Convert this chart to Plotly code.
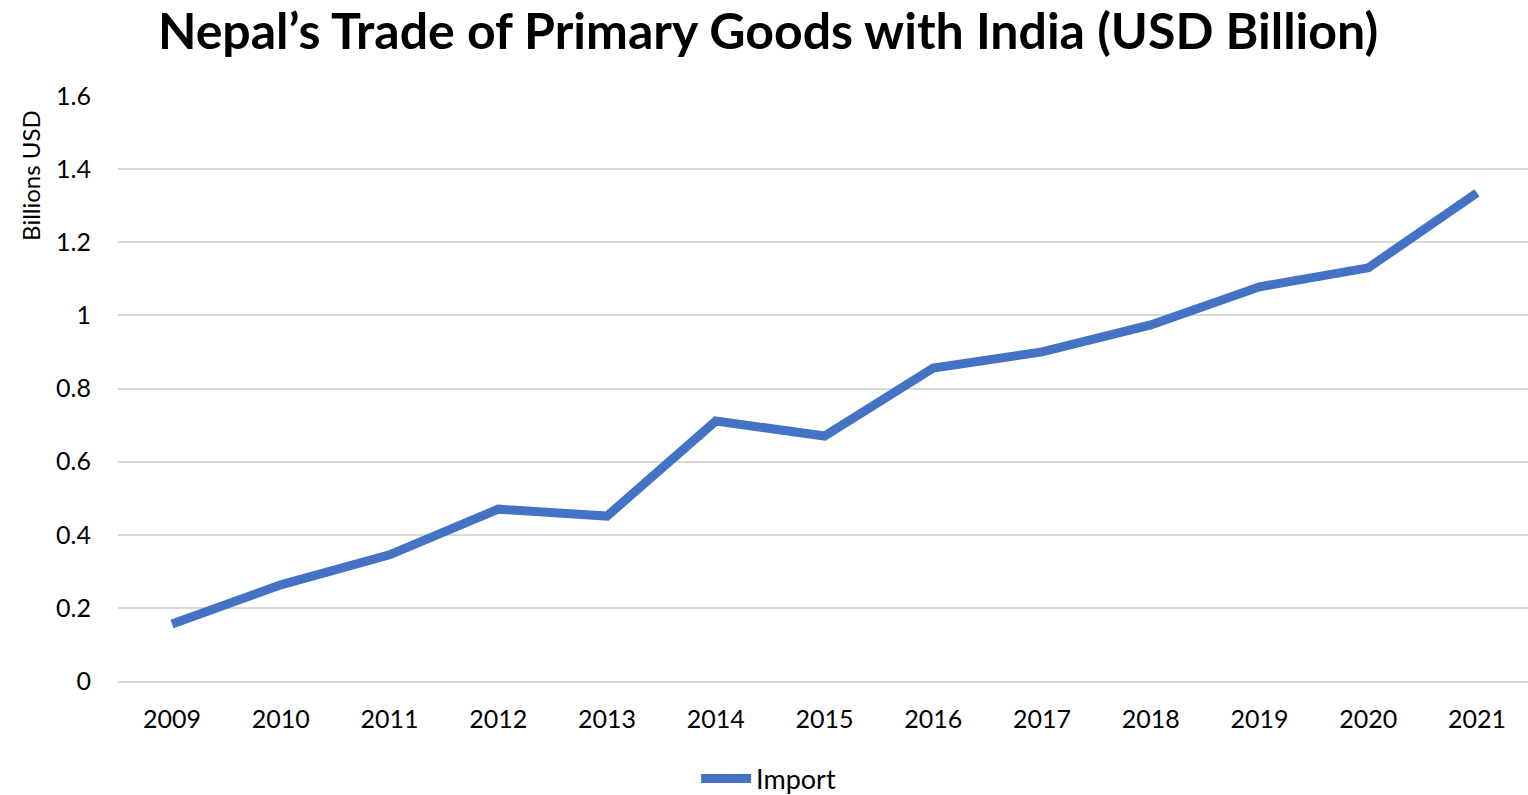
import plotly.graph_objects as go

years = ["2009", "2010", "2011", "2012", "2013", "2014", "2015", "2016", "2017", "2018", "2019", "2020", "2021"]
imports = [0.156, 0.263, 0.345, 0.470, 0.451, 0.711, 0.670, 0.856, 0.900, 0.974, 1.078, 1.130, 1.335]
y_ticks = [0, 0.2, 0.4, 0.6, 0.8, 1.0, 1.2, 1.4, 1.6]
y_tick_text = ["0", "0.2", "0.4", "0.6", "0.8", "1", "1.2", "1.4", "1.6"]

FONT = "Lato, 'Open Sans', sans-serif"

fig = go.Figure()
fig.add_trace(go.Scatter(
    x=years, y=imports, mode="lines", name="Import",
    line=dict(color="#4472C4", width=9),
))

fig.update_layout(
    width=1528, height=795,
    paper_bgcolor="white", plot_bgcolor="white",
    margin=dict(l=118, r=0, t=96, b=114, autoexpand=False),
    font=dict(family=FONT, color="black", size=25),
    title=dict(
        text="<b>Nepal’s Trade of Primary Goods with India (USD Billion)</b>",
        x=768 / 1528, xanchor="center", xref="container",
        y=1 - 31 / 795, yanchor="middle", yref="container",
        font=dict(family=FONT, size=50, color="black"),
    ),
    xaxis=dict(
        type="category", range=[-0.497, 12.469],
        showgrid=False, showline=True, linecolor="#d9d9d9", linewidth=1.5,
        ticks="", tickfont=dict(size=25), ticklabelstandoff=15,
    ),
    yaxis=dict(
        range=[0, 1.6], tickvals=y_ticks, ticktext=y_tick_text,
        showgrid=True, gridcolor="#d9d9d9", gridwidth=1.5,
        zeroline=False, showline=False, ticks="",
        tickfont=dict(size=25), ticklabelstandoff=26,
    ),
    showlegend=True,
    legend=dict(
        orientation="h", xref="container", yref="paper",
        x=0.503, xanchor="center", y=-(779 - 681) / 585, yanchor="middle",
        font=dict(size=27), itemwidth=50,
    ),
    annotations=[dict(
        text="Billions USD", textangle=-90,
        xref="paper", yref="paper", x=-0.0625, xanchor="center",
        y=(681 - 175) / 585, yanchor="middle",
        showarrow=False, font=dict(size=24, family=FONT, color="black"),
    )],
)

fig.write_html("out.html", config={"displayModeBar": False},
               post_script="document.body.style.margin='0';")
